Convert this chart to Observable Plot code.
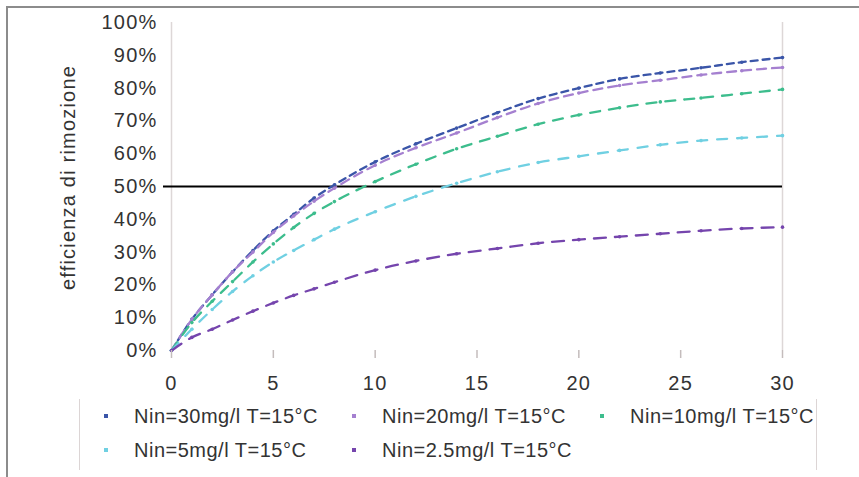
<!DOCTYPE html>
<html><head><meta charset="utf-8">
<script src="https://cdn.jsdelivr.net/npm/d3@7"></script>
<script src="https://cdn.jsdelivr.net/npm/@observablehq/plot@0.6"></script>
<style>
html,body{margin:0;padding:0;background:#fff;width:859px;height:477px;overflow:hidden;}
#wrap{position:relative;width:859px;height:477px;font-family:"Liberation Sans",Arial,sans-serif;}
#chart{position:absolute;left:0;top:0;}
#frame{position:absolute;left:6px;top:6px;width:900px;height:520px;border-top:2px solid #8c8c8c;border-left:2px solid #8c8c8c;pointer-events:none;}
#legend{position:absolute;left:79px;top:399px;width:738px;height:71px;border-left:1.5px solid #dcd5d5;border-right:1.5px solid #dcd5d5;display:grid;grid-template-columns:248px 248px 238px;grid-auto-rows:34px;padding-left:24px;box-sizing:border-box;}
.item{display:flex;align-items:center;font-size:20px;letter-spacing:0.5px;color:#333;white-space:nowrap;}
.sw{width:4px;height:4px;margin-right:26px;flex:none;}
</style></head>
<body>
<div id="wrap"><div id="chart"></div><div id="legend"></div><div id="frame"></div></div>
<script>
// x values (tempo)
const days = [0,1,2,3,4,5,6,7,8,10,12,14,16,18,20,22,24,26,28,30];
// removal efficiency (%) per series
const nin30 = [0,9.5,17,24,30.5,36.5,41.5,46.5,50.5,57.5,63,67.8,72.5,76.8,80,82.8,84.6,86.2,87.9,89.3];
const nin20 = [0,9.5,17,24,30,36,41,45.5,49.5,56.5,61.8,66.3,71,75.3,78.5,80.8,82.4,84,85.3,86.3];
const nin10 = [0,8.5,15,21,27,32.5,37.5,41.8,45.4,51.5,56.8,61.5,65.3,69,71.8,74,75.8,77,78.3,79.6];
const nin5  = [0,6.5,12.5,18,22.8,27,30.5,33.8,37,42.3,47,51,54.5,57.3,59.2,61,62.7,64,64.8,65.5];
const nin25 = [0,4,6.5,9.3,12,14.5,16.8,18.8,20.8,24.5,27.3,29.5,31.1,32.7,33.8,34.7,35.6,36.5,37.2,37.6];
const seriesNames = ["Nin=30mg/l T=15°C","Nin=20mg/l T=15°C","Nin=10mg/l T=15°C","Nin=5mg/l T=15°C","Nin=2.5mg/l T=15°C"];
const seriesValues = [nin30, nin20, nin10, nin5, nin25];
const seriesColors = ["#3a55a8","#a580d0","#3dbd8d","#70d0e2","#7545ad"];
const seriesDash = ["7,5","9,6","10,9","10,10","12,9"];
const xTicks = [0,5,10,15,20,25,30];
const yTicks = [0,10,20,30,40,50,60,70,80,90,100];
const xDomain = [0,30];
const yDomain = [0,100];
const threshold = [50];
const yLabel = ["efficienza di rimozione"];

const marks = [
  Plot.ruleX(xDomain, {y1: 0, y2: 100, stroke: "#ddd7d7", strokeWidth: 1.5}),
  Plot.ruleY(threshold, {stroke: "#000", strokeWidth: 2, insetLeft: -8})
];
seriesValues.forEach((vals, i) => {
  const data = days.map((d, j) => ({day: d, value: vals[j]}));
  marks.push(Plot.line(data, {x: "day", y: "value", stroke: seriesColors[i], strokeWidth: 2.3, strokeDasharray: seriesDash[i], curve: "monotone-x"}));
  marks.push(Plot.dot(data, {x: "day", y: "value", fill: seriesColors[i], r: 1.8}));
});
marks.push(
  Plot.axisX({ticks: xTicks, tickSize: 8, tickPadding: 17, stroke: "#c4bcbc", strokeWidth: 1.5, fill: "#333", label: null}),
  Plot.axisY({ticks: yTicks, tickSize: 0, tickPadding: 14, tickFormat: d => d + "%", fill: "#333", label: null}),
  Plot.text(yLabel, {frameAnchor: "left", text: d => d, rotate: -90, textAnchor: "middle", dx: -103, dy: -9, fill: "#333", fontSize: 20})
);

const chart = Plot.plot({
  width: 859, height: 400,
  marginLeft: 171, marginRight: 77, marginTop: 22, marginBottom: 50,
  x: {domain: xDomain},
  y: {domain: yDomain},
  style: {fontFamily: '"Liberation Sans", Arial, sans-serif', fontSize: "20px", letterSpacing: "1.2px", color: "#333", background: "transparent", overflow: "visible"},
  marks
});
document.getElementById("chart").appendChild(chart);

const legend = document.getElementById("legend");
seriesNames.forEach((name, i) => {
  const item = document.createElement("div");
  item.className = "item";
  const sw = document.createElement("span");
  sw.className = "sw";
  sw.style.background = seriesColors[i];
  item.appendChild(sw);
  item.appendChild(document.createTextNode(name));
  legend.appendChild(item);
});
</script>
</body></html>
